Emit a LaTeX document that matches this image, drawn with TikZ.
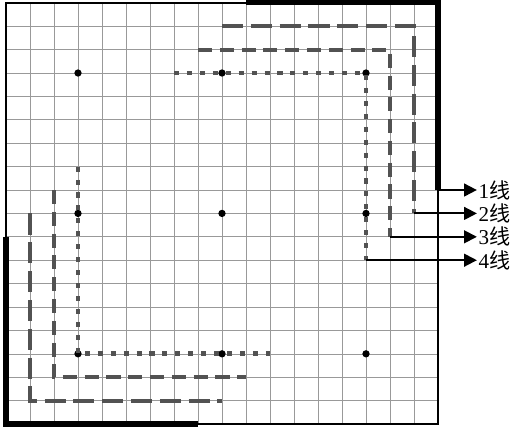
\documentclass[tikz,border=0pt]{standalone}
\usepackage{fontspec}
\setmainfont{Liberation Serif}
\newfontfamily\cjk{Noto Sans CJK SC}
\usetikzlibrary{arrows.meta}

\begin{document}
\begin{tikzpicture}[x=0.6cm,y=0.585cm,
  grille/.style={black!40,line width=0.45pt},
  trait/.style={line width=2.8pt,black!68},
  fleche/.style={line width=1.3pt,-{Triangle[length=9pt,width=9pt]}},
  etiq/.style={anchor=west,inner sep=1pt,font=\fontsize{15}{16}\selectfont}]
% Grille, lignes 1 a 4 et renvois
\useasboundingbox (-0.25,-0.171) rectangle (21.458,18.12);
\foreach \i in {1,...,17} {
  \draw[grille] (\i,0) -- (\i,18);
  \draw[grille] (0,\i) -- (18,\i);
}
\foreach \x in {3,9,15} \foreach \y in {3,9,15} \fill (\x,\y) circle (2.6pt);
\coordinate (e1) at (18,10);
\coordinate (e2) at (17,9);
\coordinate (e3) at (16,8);
\coordinate (e4) at (15,7);
\draw[trait,dash pattern=on 15pt off 5.5pt] (9,17) -- (17,17) -- (e2);
\draw[trait,dash pattern=on 15pt off 5.5pt] (1,9) -- (1,1) -- (9,1);
\draw[trait,dash pattern=on 10pt off 5.5pt] (8,16) -- (16,16) -- (e3);
\draw[trait,dash pattern=on 10pt off 5.5pt] (2,10) -- (2,2) -- (10,2);
\draw[trait,line width=3.4pt,dash pattern=on 3.6pt off 5.6pt] (7,15) -- (15,15) -- (e4);
\draw[trait,line width=3.4pt,dash pattern=on 3.6pt off 5.6pt] (3,11) -- (3,3) -- (11,3);
\draw[line width=1pt] (0,0) rectangle (18,18);
\draw[line width=3.6pt] (10,18) -- (18,18) -- (e1);
\draw[line width=3.6pt] (0,8) -- (0,0) -- (8,0);
\node[etiq] (l1) at (19.62,10) {1\cjk 线};
\node[etiq] (l2) at (19.62,9) {2\cjk 线};
\node[etiq] (l3) at (19.62,8) {3\cjk 线};
\node[etiq] (l4) at (19.62,7) {4\cjk 线};
\draw[fleche] (e1) -- (l1.west);
\draw[fleche] (e2) -- (l2.west);
\draw[fleche] (e3) -- (l3.west);
\draw[fleche] (e4) -- (l4.west);
\end{tikzpicture}
\end{document}
